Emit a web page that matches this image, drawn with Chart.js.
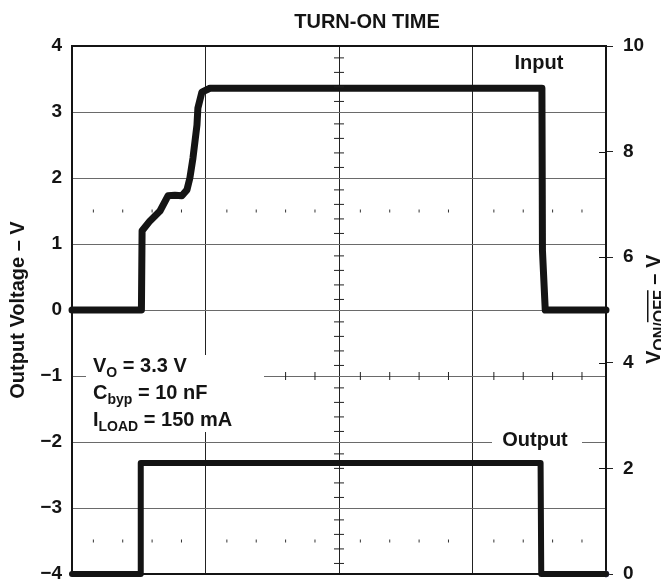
<!DOCTYPE html>
<html>
<head>
<meta charset="utf-8">
<script src="https://cdn.jsdelivr.net/npm/chart.js@4.4.0/dist/chart.umd.min.js"></script>
<style>
  html, body { margin: 0; padding: 0; background: #fff; }
  #wrap { width: 661px; height: 584px; }
</style>
</head>
<body>
<div id="wrap"><canvas id="chart" width="661" height="584"></canvas></div>
<script>
// time runs in scope divisions (4 across); upper trace on left axis (V), lower on right axis (V)
const inputTime  = [0, 0.52, 0.525, 0.584, 0.659, 0.719, 0.771, 0.823, 0.861, 0.883, 0.906, 0.936, 0.943, 0.973, 1.033, 3.52, 3.524, 3.545, 4];
const inputVolts = [0, 0, 1.2, 1.35, 1.5, 1.73, 1.74, 1.73, 1.82, 2.0, 2.3, 2.8, 3.06, 3.3, 3.36, 3.36, 0.9, 0, 0];

const outputTime  = [0, 0.51, 0.515, 3.51, 3.515, 4];
const outputVolts = [0, 0, 2.1, 2.1, 0, 0];

const leftTicks  = [-4, -3, -2, -1, 0, 1, 2, 3, 4];
const rightTicks = [0, 2, 4, 6, 8, 10];

// graticule: small marks inside each division
const minorSteps = [0.16, 0.38, 0.6, 0.82];
const dotRows = [1.5, -3.5];
const centerX = 2;
const centerY = -1;

const FONT = '"Liberation Sans", Arial, Helvetica, sans-serif';
const INK = '#141414';

function toPoints(xs, ys) {
  return xs.map((x, i) => ({ x: x, y: ys[i] }));
}

const dotPts = [], vTickPts = [], hTickPts = [];
for (let k = 0; k < 4; k++) {
  minorSteps.forEach(m => {
    dotRows.forEach(r => dotPts.push({ x: k + m, y: r }));
    hTickPts.push({ x: k + m, y: centerY });
  });
}
for (let k = -4; k < 4; k++) {
  minorSteps.forEach(m => vTickPts.push({ x: centerX, y: k + m }));
}

function richText(ctx, parts, x, y, big, small) {
  // parts: [text, 'sub' | 'subover' | undefined]
  let cx = x;
  parts.forEach(p => {
    const sub = p[1] === 'sub' || p[1] === 'subover';
    ctx.font = 'bold ' + (sub ? small : big) + 'px ' + FONT;
    const w = ctx.measureText(p[0]).width;
    ctx.fillText(p[0], cx, sub ? y + 5 : y);
    if (p[1] === 'subover') {
      ctx.fillRect(cx, y - 13, w, 1.5);
    }
    cx += w;
  });
}

const scopePlugin = {
  id: 'scope',
  beforeDatasetsDraw(chart) {
    const { ctx, chartArea: a, scales } = chart;
    ctx.save();
    ctx.strokeStyle = INK;
    ctx.lineWidth = 1;
    // inner half of right-axis ticks
    rightTicks.forEach(v => {
      const py = Math.round(scales.y2.getPixelForValue(v)) + 0.5;
      ctx.beginPath();
      ctx.moveTo(a.right - 7, py);
      ctx.lineTo(a.right, py);
      ctx.stroke();
    });
    // frame
    ctx.lineWidth = 2;
    ctx.strokeRect(a.left, a.top, a.right - a.left, a.bottom - a.top);
    ctx.restore();
  },
  afterDatasetsDraw(chart) {
    const { ctx } = chart;
    ctx.save();
    ctx.fillStyle = '#fff';
    ctx.fillRect(86, 355, 178, 77);
    ctx.fillRect(492, 430, 90, 20);

    ctx.fillStyle = INK;
    ctx.textBaseline = 'alphabetic';
    ctx.textAlign = 'left';
    richText(ctx, [['V'], ['O', 'sub'], [' = 3.3 V']], 93, 372, 20, 14);
    richText(ctx, [['C'], ['byp', 'sub'], [' = 10 nF']], 93, 399, 20, 14);
    richText(ctx, [['I'], ['LOAD', 'sub'], [' = 150 mA']], 93, 426, 20, 14);

    ctx.textAlign = 'center';
    ctx.textBaseline = 'middle';
    ctx.font = 'bold 20px ' + FONT;
    ctx.fillText('TURN-ON TIME', 367, 22);
    ctx.fillText('Input', 539, 63);
    ctx.fillText('Output', 535, 440);

    // right axis title, rotated
    ctx.translate(660, 364);
    ctx.rotate(-Math.PI / 2);
    ctx.textAlign = 'left';
    ctx.textBaseline = 'alphabetic';
    richText(ctx, [['V'], ['ON/', 'sub'], ['OFF', 'subover'], [' \u2013 V']], 0, 0, 20, 16);
    ctx.restore();
  }
};

const graticule = (data, rot, radius, color) => ({
  type: 'scatter',
  data: data,
  yAxisID: 'y',
  showLine: false,
  pointStyle: 'line',
  pointRotation: rot,
  pointRadius: radius,
  pointBorderWidth: 1,
  pointBorderColor: color,
  pointBackgroundColor: color,
  pointHoverRadius: radius
});

const noPad = s => { s.paddingTop = 0; s.paddingBottom = 0; };

new Chart(document.getElementById('chart'), {
  type: 'line',
  data: {
    datasets: [
      graticule(dotPts, 90, 1.5, '#333'),
      graticule(vTickPts, 0, 5, '#222'),
      graticule(hTickPts, 90, 4, '#222'),
      {
        label: 'Input',
        data: toPoints(inputTime, inputVolts),
        yAxisID: 'y',
        borderColor: INK,
        borderWidth: 7,
        borderJoinStyle: 'round',
        borderCapStyle: 'round',
        pointRadius: 0,
        tension: 0,
        clip: false
      },
      {
        label: 'Output',
        data: toPoints(outputTime, outputVolts),
        yAxisID: 'y2',
        borderColor: INK,
        borderWidth: 6,
        borderJoinStyle: 'round',
        borderCapStyle: 'round',
        pointRadius: 0,
        tension: 0,
        clip: false
      },
      {
        type: 'scatter',
        data: [{ x: outputTime[outputTime.length - 1], y: outputVolts[outputVolts.length - 1] }],
        yAxisID: 'y2',
        pointRadius: 3,
        pointBackgroundColor: '#5b5b8c',
        pointBorderColor: '#5b5b8c',
        clip: false
      }
    ]
  },
  options: {
    responsive: false,
    animation: false,
    devicePixelRatio: 1,
    layout: { padding: { top: 46, left: 0, right: 0, bottom: 0 } },
    plugins: { legend: { display: false }, tooltip: { enabled: false }, title: { display: false } },
    scales: {
      x: {
        type: 'linear', min: 0, max: 4,
        ticks: { display: false, stepSize: 1 },
        grid: { color: '#222', lineWidth: 1, drawTicks: false },
        border: { display: false },
        afterFit: s => { s.height = 10; s.paddingLeft = 0; s.paddingRight = 0; }
      },
      y: {
        position: 'left', min: -4, max: 4,
        afterBuildTicks: s => { s.ticks = leftTicks.map(v => ({ value: v })); },
        ticks: {
          padding: 10, color: INK,
          font: { family: FONT, size: 19, weight: 'bold', lineHeight: 1 },
          callback: v => (v < 0 ? '\u2212' + Math.abs(v) : String(v))
        },
        grid: { color: '#6a6a6a', lineWidth: 1, drawTicks: false },
        border: { display: false },
        title: {
          display: true, text: 'Output Voltage \u2013 V', color: INK,
          font: { family: FONT, size: 20, weight: 'bold' },
          padding: { top: 6, bottom: 0 }
        },
        afterFit: s => { s.width = 72; noPad(s); }
      },
      y2: {
        position: 'right', min: 0, max: 10,
        afterBuildTicks: s => { s.ticks = rightTicks.map(v => ({ value: v })); },
        ticks: {
          padding: 10, color: INK,
          font: { family: FONT, size: 19, weight: 'bold', lineHeight: 1 }
        },
        grid: { drawOnChartArea: false, drawTicks: true, tickLength: 7, color: '#222' },
        border: { display: false },
        afterFit: s => { s.width = 55; noPad(s); }
      }
    }
  },
  plugins: [scopePlugin]
});
</script>
</body>
</html>
